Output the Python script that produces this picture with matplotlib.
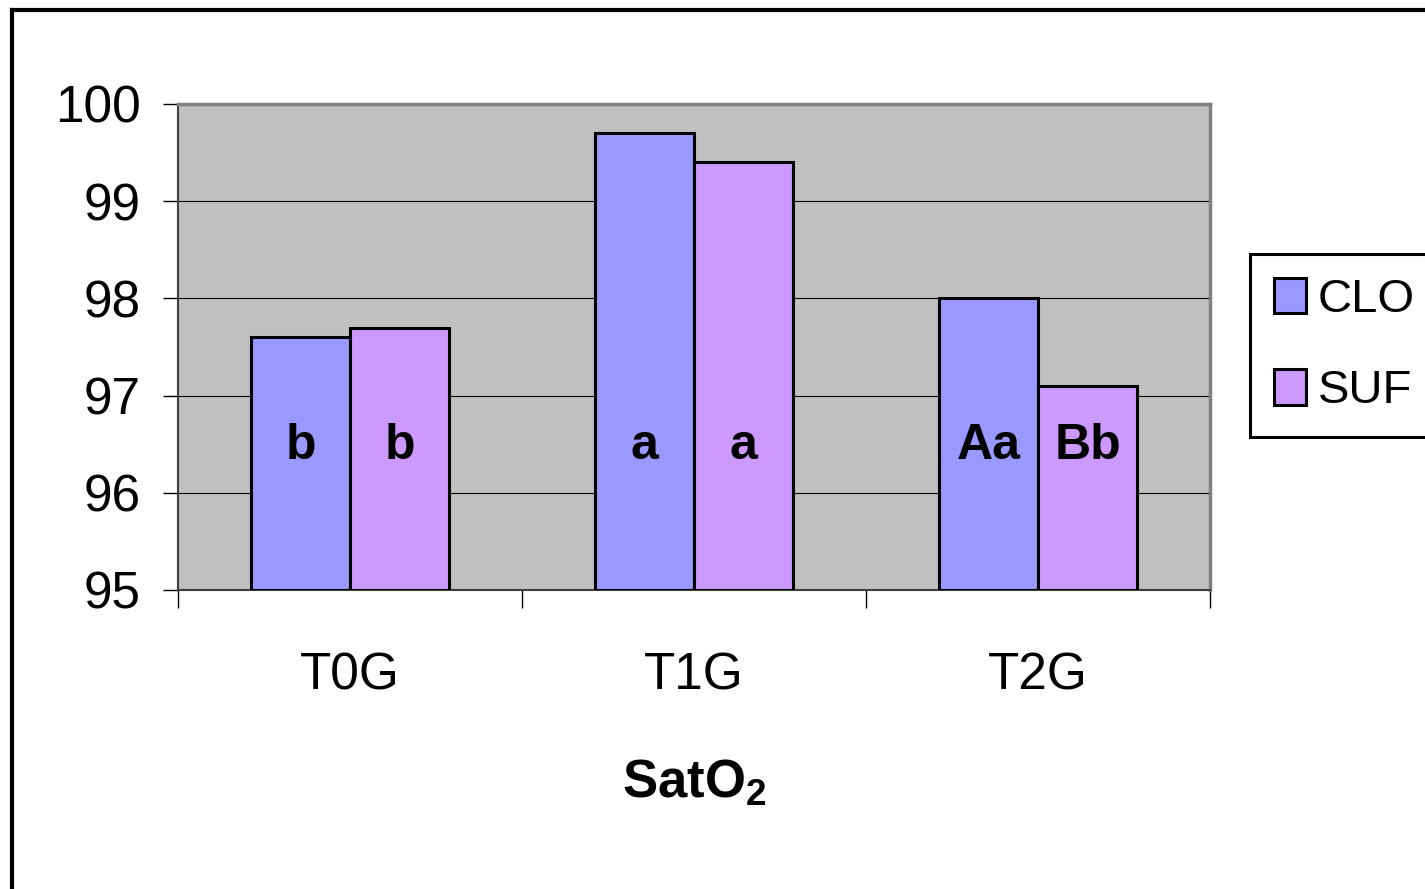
import matplotlib.pyplot as plt
import numpy as np
from matplotlib.lines import Line2D

groups = ["T0G", "T1G", "T2G"]
series = ["CLO", "SUF"]
clo = [97.6, 99.7, 98.0]
suf = [97.7, 99.4, 97.1]
clo_letters = ["b", "a", "Aa"]
suf_letters = ["b", "a", "Bb"]
colors = ["#9999FF", "#CC99FF"]
yticks = [95, 96, 97, 98, 99, 100]

plt.rcParams['font.family'] = ['Liberation Sans', 'DejaVu Sans']
plt.rcParams['mathtext.fontset'] = 'custom'
plt.rcParams['mathtext.bf'] = 'Liberation Sans:bold'
plt.rcParams['mathtext.rm'] = 'Liberation Sans'

fig = plt.figure(figsize=(14.25, 8.89), dpi=100)
ax = fig.add_axes([178/1425, 1 - 590/889, 1032/1425, 486/889])
ax.set_facecolor("#C0C0C0")

x = np.arange(len(groups))
w = 0.288
base = 95
for vals, letters, off, col, name in [(clo, clo_letters, -w/2, colors[0], series[0]),
                                       (suf, suf_letters, w/2, colors[1], series[1])]:
    heights = [v - base for v in vals]
    ax.bar(x + off, heights, w, bottom=base, color=col, edgecolor="black",
           linewidth=2.2, label=name, zorder=3)
    for xi, lab in zip(x + off, letters):
        ax.text(xi, 96.48, lab, ha="center", va="center", fontsize=36,
                fontweight="bold", zorder=4)

ax.set_xlim(-0.5, 2.5)
ax.set_ylim(95, 100)
ax.set_yticks(yticks)
ax.set_yticklabels([str(t) for t in yticks])
ax.yaxis.grid(True, color="black", linewidth=0.8)
ax.set_axisbelow(True)

# group boundaries get the tick marks, centres get the labels
ax.set_xticks([-0.5, 0.5, 1.5, 2.5])
ax.set_xticklabels([])
ax.set_xticks(x, minor=True)
ax.set_xticklabels(groups, minor=True)
ax.tick_params(axis="x", which="major", length=13, width=1, direction="out")
ax.tick_params(axis="x", which="minor", length=0, pad=44, labelsize=37)
ax.tick_params(axis="y", length=11, width=1, direction="out", pad=16, labelsize=37)

for s in ["top", "right"]:
    ax.spines[s].set_color("#808080")
    ax.spines[s].set_linewidth(2.5)
for s in ["left", "bottom"]:
    ax.spines[s].set_color("#404040")
    ax.spines[s].set_linewidth(1.5)

ax.set_xlabel(r"$\mathbf{SatO_2}$", fontsize=38, labelpad=42)

leg = ax.legend(loc="upper left", bbox_to_anchor=(1250/1425, 1 - 254/889),
                bbox_transform=fig.transFigure, fontsize=34, frameon=True,
                fancybox=False, edgecolor="black", framealpha=1,
                handlelength=0.68, handleheight=0.78, handletextpad=0.25,
                labelspacing=1.0, borderpad=0.5, borderaxespad=0)
leg.get_frame().set_linewidth(2.2)
for h in leg.legend_handles:
    h.set_linewidth(2.2)

# outer frame of the chart area
fig.add_artist(Line2D([12/1425, 12/1425], [-0.1, 1 - 10/889], color="black",
                      linewidth=3, transform=fig.transFigure))
fig.add_artist(Line2D([12/1425, 1.1], [1 - 10/889, 1 - 10/889], color="black",
                      linewidth=3, transform=fig.transFigure))

fig.savefig("out.png", dpi=100)
